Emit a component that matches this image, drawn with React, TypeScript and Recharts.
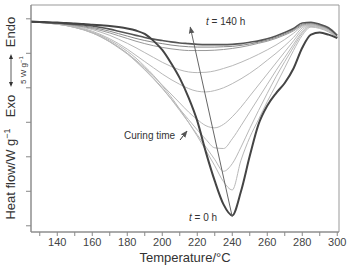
import React from 'react';
import { LineChart, Line, XAxis, YAxis, ReferenceLine, ReferenceArea } from 'recharts';

const temperatures = [125,130,135,140,145,150,155,160,165,170,175,180,185,190,195,200,205,210,215,220,225,230,235,240,245,250,255,260,265,270,275,280,285,290,295,300];

const t0h = [-0.4,-0.45,-0.5,-0.55,-0.6,-0.68,-0.75,-0.85,-0.95,-1.05,-1.2,-1.4,-1.7,-2.2,-3.2,-4.5,-6.4,-8.6,-11.4,-14.8,-19.4,-23.5,-26.9,-28.5,-25.0,-19.9,-15.3,-12.6,-10.8,-9.3,-7.2,-4.2,-2.3,-2.0,-2.3,-2.8];
const t140h = [-0.45,-0.5,-0.55,-0.6,-0.7,-0.8,-0.9,-1.05,-1.25,-1.5,-1.8,-2.1,-2.4,-2.7,-2.95,-3.15,-3.35,-3.5,-3.6,-3.7,-3.75,-3.75,-3.75,-3.7,-3.6,-3.4,-3.2,-2.9,-2.5,-2.0,-1.4,-0.6,-0.5,-0.8,-1.3,-2.4];
const band1 = [-0.45,-0.5,-0.55,-0.62,-0.75,-0.9,-1.05,-1.25,-1.5,-1.8,-2.15,-2.5,-2.85,-3.15,-3.4,-3.6,-3.8,-3.95,-4.05,-4.1,-4.1,-4.1,-4.05,-4.0,-3.85,-3.65,-3.4,-3.1,-2.7,-2.2,-1.6,-0.8,-0.6,-0.9,-1.4,-2.5];
const band2 = [-0.45,-0.5,-0.56,-0.65,-0.8,-0.97,-1.15,-1.4,-1.7,-2.05,-2.45,-2.85,-3.25,-3.6,-3.9,-4.15,-4.35,-4.5,-4.6,-4.6,-4.6,-4.55,-4.45,-4.3,-4.1,-3.85,-3.55,-3.25,-2.85,-2.35,-1.75,-0.95,-0.7,-1.0,-1.5,-2.55];
const curveA = [-0.45,-0.5,-0.58,-0.68,-0.82,-1.0,-1.25,-1.55,-1.95,-2.4,-2.95,-3.55,-4.2,-4.9,-5.6,-6.3,-6.9,-7.4,-7.7,-7.8,-7.75,-7.55,-7.2,-6.8,-6.3,-5.75,-5.15,-4.5,-3.8,-3.0,-2.1,-1.1,-0.8,-1.05,-1.55,-2.6];
const curveB = [-0.45,-0.52,-0.6,-0.72,-0.88,-1.1,-1.4,-1.8,-2.3,-2.9,-3.6,-4.4,-5.3,-6.2,-7.1,-8.0,-8.8,-9.5,-10.1,-10.5,-10.6,-10.4,-10.0,-9.4,-8.7,-7.9,-7.0,-6.0,-5.0,-3.9,-2.7,-1.3,-0.85,-1.1,-1.6,-2.6];
const curveC = [-0.45,-0.53,-0.62,-0.75,-0.93,-1.2,-1.55,-2.0,-2.6,-3.3,-4.1,-5.0,-6.0,-7.1,-8.3,-9.6,-10.9,-12.2,-13.5,-14.6,-15.5,-15.8,-15.3,-14.2,-12.8,-11.2,-9.6,-8.0,-6.4,-4.8,-3.2,-1.6,-0.9,-1.1,-1.6,-2.65];
const curveD = [-0.45,-0.53,-0.63,-0.77,-0.96,-1.25,-1.6,-2.05,-2.65,-3.35,-4.2,-5.1,-6.2,-7.4,-8.7,-10.1,-11.6,-13.1,-14.6,-16.1,-17.5,-18.7,-18.8,-17.4,-15.5,-13.5,-11.5,-9.5,-7.5,-5.6,-3.7,-1.9,-1.0,-1.2,-1.7,-2.7];
const curveE = [-0.45,-0.54,-0.64,-0.78,-0.98,-1.25,-1.6,-2.05,-2.6,-3.3,-4.1,-5.0,-6.1,-7.3,-8.6,-10.0,-11.6,-13.3,-15.0,-16.8,-18.6,-20.4,-22.1,-21.0,-18.6,-15.9,-13.3,-10.8,-8.4,-6.2,-4.1,-2.1,-1.1,-1.3,-1.8,-2.7];
const curveF = [-0.45,-0.54,-0.64,-0.78,-0.97,-1.22,-1.55,-1.95,-2.45,-3.1,-3.85,-4.7,-5.7,-6.9,-8.2,-9.7,-11.3,-13.1,-15.0,-17.0,-19.1,-21.3,-23.6,-24.8,-20.5,-17.2,-14.6,-12.0,-9.6,-7.1,-4.6,-2.4,-1.2,-1.4,-1.9,-2.7];

const xTicks = [130,140,150,160,170,180,190,200,210,220,230,240,250,260,270,280,290,300];
const yTicks = [0,-5,-10,-15,-20,-25,-30];

const data = temperatures.map((t, i) => ({
  t,
  t0h: t0h[i], t140h: t140h[i], band1: band1[i], band2: band2[i],
  a: curveA[i], b: curveB[i], c: curveC[i], d: curveD[i], e: curveE[i], f: curveF[i],
}));

const FONT = 'Liberation Sans, Arial, sans-serif';

const grayKeys = ['a','b','c','d','e','f'];

export default function App() {
  return (
    <div style={{ position: 'absolute', left: 0, top: 0, width: 347, height: 266, background: '#fff' }}>
      <svg width={0} height={0} style={{ position: 'absolute' }}>
        <defs>
          <marker id="arrowHead" viewBox="0 0 10 10" refX="9" refY="5" markerWidth="7" markerHeight="9" orient="auto" markerUnits="userSpaceOnUse">
            <path d="M0,1 L10,5 L0,9 z" fill="#555" />
          </marker>
        </defs>
      </svg>
      <LineChart width={347} height={266} data={data} margin={{ top: 5, right: 8, left: 21, bottom: 0 }}>
        <XAxis dataKey="t" type="number" domain={[125, 301]} ticks={xTicks} allowDataOverflow
          tickFormatter={(v: number) => (v % 20 === 0 ? String(v) : '')}
          tickSize={4} tickMargin={2} height={34}
          stroke="#888" tick={{ fill: '#444', fontSize: 11, fontFamily: FONT }} />
        <YAxis type="number" domain={[-30.9, 2]} ticks={yTicks} width={10} allowDataOverflow
          tickFormatter={() => ''} tickSize={5} stroke="#888" />
        <ReferenceArea x1={125} x2={301} y1={-30.9} y2={2} fill="none" stroke="#999" strokeWidth={1} ifOverflow="visible" />
        {grayKeys.map((k) => (
          <Line key={k} dataKey={k} type="monotone" stroke="#b8b8b8" strokeWidth={1} dot={false} isAnimationActive={false} />
        ))}
        <Line dataKey="band2" type="monotone" stroke="#999" strokeWidth={1} dot={false} isAnimationActive={false} />
        <Line dataKey="band1" type="monotone" stroke="#888" strokeWidth={1} dot={false} isAnimationActive={false} />
        <Line dataKey="t140h" type="monotone" stroke="#555" strokeWidth={1.6} dot={false} isAnimationActive={false} />
        <Line dataKey="t0h" type="monotone" stroke="#444" strokeWidth={2} dot={false} isAnimationActive={false} />
        <ReferenceLine segment={[{ x: 240, y: -28.7 }, { x: 216, y: -1.2 }]} stroke="#666" strokeWidth={1} markerEnd="url(#arrowHead)" ifOverflow="visible" />
      </LineChart>
      <svg width={347} height={266} style={{ position: 'absolute', left: 0, top: 0, pointerEvents: 'none' }} fontFamily={FONT}>
        <text x={185} y={262} textAnchor="middle" fontSize={13} fill="#333">Temperature/°C</text>
        <text transform="translate(15,174) rotate(-90)" textAnchor="middle" fontSize={13} fill="#333">
          Heat flow/W g<tspan dy={-5} fontSize={9}>−1</tspan>
        </text>
        <text transform="translate(15,106) rotate(-90)" textAnchor="middle" fontSize={13} fill="#333">Exo</text>
        <text transform="translate(15,32) rotate(-90)" textAnchor="middle" fontSize={13} fill="#333">Endo</text>
        <line x1={11} y1={56} x2={11} y2={85} stroke="#333" strokeWidth={0.8} />
        <path d="M11,54 L9,59 L13,59 z" fill="#333" />
        <path d="M11,87 L9,82 L13,82 z" fill="#333" />
        <text transform="translate(26,70) rotate(-90)" textAnchor="middle" fontSize={8} fill="#333">
          5 W g<tspan dy={-3} fontSize={6}>−1</tspan>
        </text>
        <text x={206} y={25} fontSize={10} fill="#333"><tspan fontStyle="italic">t</tspan> = 140 h</text>
        <text x={189} y={221} fontSize={10} fill="#333"><tspan fontStyle="italic">t</tspan> = 0 h</text>
        <text x={124} y={139} fontSize={10} fill="#333">Curing time</text>
        <line x1={180} y1={140} x2={187} y2={131} stroke="#333" strokeWidth={1} markerEnd="url(#arrowHead)" />
      </svg>
    </div>
  );
}
